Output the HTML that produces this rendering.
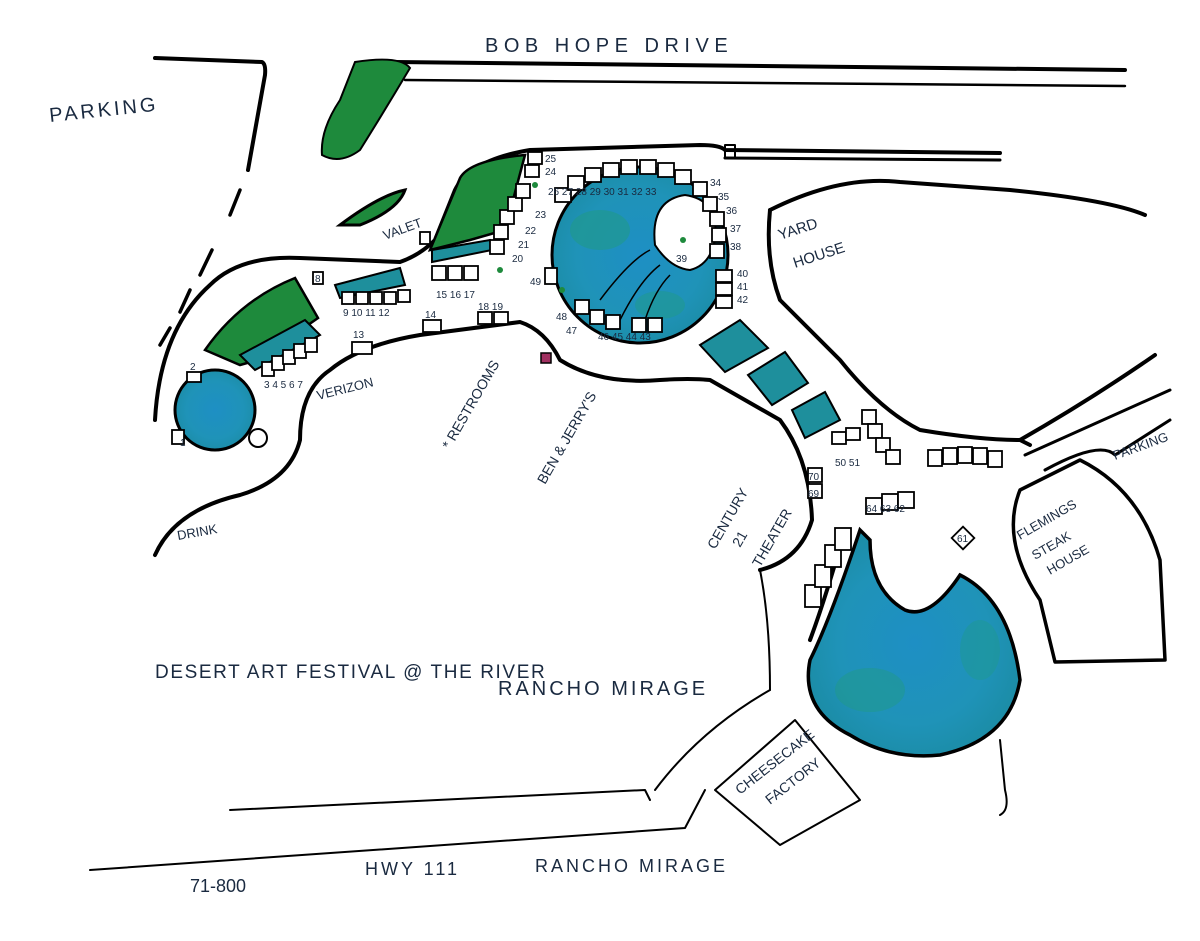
<!DOCTYPE html>
<html><head><meta charset="utf-8"><style>
html,body{margin:0;padding:0;background:#fff;width:1200px;height:941px;overflow:hidden}
svg{display:block}
text{font-family:"Liberation Sans",sans-serif;fill:#1a2a40}
</style></head><body>
<svg width="1200" height="941" viewBox="0 0 1200 941">
<defs>
<radialGradient id="pond" cx="50%" cy="50%" r="60%">
<stop offset="0" stop-color="#1e8fc4"/><stop offset="0.6" stop-color="#1f93b8"/><stop offset="1" stop-color="#1a8aa0"/>
</radialGradient>
</defs>
<g fill="none" stroke="#000" stroke-width="4" stroke-linecap="round" stroke-linejoin="round">
<path d="M155 58 L262 62 Q266 64 265 75 L248 170"/>
<path d="M395 62 L1125 70" />
<path d="M405 80 L1125 86" stroke-width="2.5"/>
<path d="M240 190 L230 215 M212 250 L200 275 M190 290 L180 312 M170 328 L160 345" stroke-width="3.5"/>
<path d="M155 420 Q160 330 210 285 Q240 255 300 258 L400 262 Q420 255 435 240 L455 190 Q470 160 530 150 L700 145 Q720 145 725 150 L1000 153"/>
<path d="M725 158 L1000 160" stroke-width="3"/>
<path d="M725 145 L735 145 L735 158 L725 158 Z" stroke-width="2"/>
<path d="M770 210 Q840 175 900 182 L1010 190 Q1110 200 1145 215"/>
<path d="M770 210 Q765 260 780 300 L840 360 Q880 410 920 430 Q980 440 1020 440 Q1090 400 1155 355"/>
<path d="M1020 440 L1030 445" />
<path d="M1025 455 L1170 390" stroke-width="3"/>
<path d="M1045 470 Q1100 440 1115 455 L1170 420" stroke-width="3"/>
<path d="M1080 460 Q1140 490 1160 560 L1165 660 L1055 662 L1040 600 Q1000 540 1020 490 Z" stroke-width="3.5"/>
<path d="M155 555 Q175 510 240 495 Q290 480 300 440 Q300 390 330 370 Q360 345 420 335 L520 322 Q545 330 560 360 Q600 385 660 380 Q690 378 710 380 L780 420 Q810 460 812 520 Q800 560 760 570"/>
<path d="M760 570 Q770 620 770 690" stroke-width="2"/>
<path d="M770 690 Q700 730 655 790" stroke-width="2"/>
<path d="M845 530 Q825 600 810 640"/>
<path d="M230 810 L645 790 L650 800" stroke-width="2"/>
<path d="M90 870 L685 828 L705 790" stroke-width="2"/>
<path d="M715 790 L795 720 L860 800 L780 845 Z" stroke-width="2"/>
<path d="M1000 740 L1005 790 Q1010 810 1000 815" stroke-width="2"/>
</g>
<path d="M355 62 Q400 55 410 68 Q385 110 360 150 Q340 165 322 155 Q320 130 340 100 Z" fill="#1e8a3c" stroke="#000" stroke-width="2"/>
<path d="M340 225 Q380 195 405 190 Q398 210 360 225 Z" fill="#1e8a3c" stroke="#000" stroke-width="3"/>
<path d="M460 178 Q470 160 525 155 L505 230 L470 240 L430 250 Z" fill="#1e8a3c" stroke="#000" stroke-width="2.5"/>
<path d="M205 350 Q240 300 295 278 L318 318 L258 360 L240 365 Z" fill="#1e8a3c" stroke="#000" stroke-width="2.5"/>
<path d="M240 355 L305 320 L320 335 L255 370 Z" fill="#1e8f9c" stroke="#000" stroke-width="2"/>
<path d="M335 285 L400 268 L405 285 L340 298 Z" fill="#1e8f9c" stroke="#000" stroke-width="2"/>
<path d="M432 262 L492 250 L490 240 L432 250 Z" fill="#1e8f9c" stroke="#000" stroke-width="2"/>
<circle cx="640" cy="255" r="88" fill="url(#pond)" stroke="#000" stroke-width="3"/>
<ellipse cx="600" cy="230" rx="30" ry="20" fill="#1f9a88" opacity="0.6"/>
<ellipse cx="660" cy="305" rx="25" ry="14" fill="#1f9a88" opacity="0.5"/>
<path d="M655 245 Q650 200 685 195 Q720 200 715 240 Q710 265 690 270 Q670 268 655 245 Z" fill="#fff" stroke="#000" stroke-width="2"/>
<path d="M600 300 Q630 260 650 250 M620 320 Q640 280 660 265 M645 320 Q655 290 670 275" fill="none" stroke="#000" stroke-width="1.5"/>
<circle cx="215" cy="410" r="40" fill="url(#pond)" stroke="#000" stroke-width="3"/>
<circle cx="258" cy="438" r="9" fill="#fff" stroke="#000" stroke-width="2"/>
<path d="M860 530 Q830 620 810 660 Q800 710 850 735 Q890 760 940 755 Q1010 740 1020 680 Q1010 600 960 575 Q930 620 905 610 Q870 590 870 540 Z" fill="url(#pond)" stroke="#000" stroke-width="3.5"/>
<ellipse cx="870" cy="690" rx="35" ry="22" fill="#1f9a88" opacity="0.5"/>
<ellipse cx="980" cy="650" rx="20" ry="30" fill="#1f9a88" opacity="0.4"/>
<g fill="#1e8f9c" stroke="#000" stroke-width="2">
<path d="M700 345 L740 320 L768 348 L725 372 Z"/>
<path d="M748 375 L785 352 L808 383 L772 405 Z"/>
<path d="M792 410 L825 392 L840 420 L805 438 Z"/>
</g>
<g fill="#fff" stroke="#000" stroke-width="1.8">
<rect x="172" y="430" width="12" height="14"/><rect x="187" y="372" width="14" height="10"/>
<rect x="262" y="362" width="12" height="14"/><rect x="272" y="356" width="12" height="14"/><rect x="283" y="350" width="12" height="14"/><rect x="294" y="344" width="12" height="14"/><rect x="305" y="338" width="12" height="14"/><rect x="313" y="272" width="10" height="12"/>
<rect x="342" y="292" width="12" height="12"/><rect x="356" y="292" width="12" height="12"/><rect x="370" y="292" width="12" height="12"/><rect x="384" y="292" width="12" height="12"/><rect x="398" y="290" width="12" height="12"/>
<rect x="352" y="342" width="20" height="12"/><rect x="423" y="320" width="18" height="12"/>
<rect x="432" y="266" width="14" height="14"/><rect x="448" y="266" width="14" height="14"/><rect x="464" y="266" width="14" height="14"/><rect x="478" y="312" width="14" height="12"/><rect x="494" y="312" width="14" height="12"/>
<rect x="490" y="240" width="14" height="14"/><rect x="494" y="225" width="14" height="14"/><rect x="500" y="210" width="14" height="14"/><rect x="508" y="197" width="14" height="14"/><rect x="516" y="184" width="14" height="14"/><rect x="525" y="165" width="14" height="12"/><rect x="528" y="152" width="14" height="12"/>
<rect x="555" y="188" width="16" height="14"/><rect x="568" y="176" width="16" height="14"/><rect x="585" y="168" width="16" height="14"/><rect x="603" y="163" width="16" height="14"/><rect x="621" y="160" width="16" height="14"/><rect x="640" y="160" width="16" height="14"/><rect x="658" y="163" width="16" height="14"/><rect x="675" y="170" width="16" height="14"/>
<rect x="693" y="182" width="14" height="14"/><rect x="703" y="197" width="14" height="14"/><rect x="710" y="212" width="14" height="14"/><rect x="712" y="228" width="14" height="14"/><rect x="710" y="244" width="14" height="14"/>
<rect x="716" y="270" width="16" height="12"/><rect x="716" y="283" width="16" height="12"/><rect x="716" y="296" width="16" height="12"/>
<rect x="545" y="268" width="12" height="16"/><rect x="575" y="300" width="14" height="14"/><rect x="590" y="310" width="14" height="14"/><rect x="606" y="315" width="14" height="14"/><rect x="632" y="318" width="14" height="14"/><rect x="648" y="318" width="14" height="14"/>
<rect x="420" y="232" width="10" height="12"/>
<rect x="832" y="432" width="14" height="12"/><rect x="846" y="428" width="14" height="12"/>
<rect x="862" y="410" width="14" height="14"/><rect x="868" y="424" width="14" height="14"/><rect x="876" y="438" width="14" height="14"/><rect x="886" y="450" width="14" height="14"/>
<rect x="928" y="450" width="14" height="16"/><rect x="943" y="448" width="14" height="16"/><rect x="958" y="447" width="14" height="16"/><rect x="973" y="448" width="14" height="16"/><rect x="988" y="451" width="14" height="16"/>
<rect x="808" y="468" width="14" height="14"/><rect x="808" y="484" width="14" height="14"/>
<rect x="866" y="498" width="16" height="16"/><rect x="882" y="494" width="16" height="16"/><rect x="898" y="492" width="16" height="16"/>
<rect x="955" y="530" width="16" height="16" transform="rotate(45 963 538)"/>
<rect x="805" y="585" width="16" height="22"/><rect x="815" y="565" width="16" height="22"/><rect x="825" y="545" width="16" height="22"/><rect x="835" y="528" width="16" height="22"/>
</g>
<rect x="541" y="353" width="10" height="10" fill="#a03060" stroke="#000" stroke-width="1.5"/>
<circle cx="683" cy="240" r="3" fill="#1e8a3c"/><circle cx="500" cy="270" r="3" fill="#1e8a3c"/><circle cx="535" cy="185" r="3" fill="#1e8a3c"/><circle cx="562" cy="290" r="3" fill="#1e8a3c"/>
<g font-size="20">
<text x="485" y="52" letter-spacing="5.5">BOB HOPE DRIVE</text>
<text x="50" y="122" transform="rotate(-6 50 122)" letter-spacing="3">PARKING</text>
<text x="385" y="240" font-size="13" transform="rotate(-20 385 240)">VALET</text>
<text x="780" y="240" font-size="15" transform="rotate(-18 780 240)">YARD</text>
<text x="795" y="268" font-size="15" transform="rotate(-18 795 268)">HOUSE</text>
<text x="318" y="400" font-size="13" transform="rotate(-14 318 400)">VERIZON</text>
<text x="450" y="450" font-size="14" transform="rotate(-60 450 450)">* RESTROOMS</text>
<text x="545" y="485" font-size="14" transform="rotate(-60 545 485)">BEN &amp; JERRY'S</text>
<text x="178" y="540" font-size="13" transform="rotate(-10 178 540)">DRINK</text>
<text x="715" y="550" font-size="14" transform="rotate(-60 715 550)">CENTURY</text>
<text x="740" y="548" font-size="14" transform="rotate(-60 740 548)">21</text>
<text x="760" y="568" font-size="14" transform="rotate(-60 760 568)">THEATER</text>
<text x="1020" y="540" font-size="13" transform="rotate(-30 1020 540)">FLEMINGS</text>
<text x="1035" y="560" font-size="13" transform="rotate(-30 1035 560)">STEAK</text>
<text x="1050" y="575" font-size="13" transform="rotate(-30 1050 575)">HOUSE</text>
<text x="1115" y="460" font-size="13" transform="rotate(-20 1115 460)">PARKING</text>
<text x="155" y="678" font-size="19" letter-spacing="1.6">DESERT ART FESTIVAL @ THE RIVER</text>
<text x="498" y="695" letter-spacing="3">RANCHO MIRAGE</text>
<text x="740" y="795" font-size="14" transform="rotate(-38 740 795)">CHEESECAKE</text>
<text x="770" y="805" font-size="14" transform="rotate(-38 770 805)">FACTORY</text>
<text x="190" y="892" font-size="18">71-800</text>
<text x="365" y="875" font-size="18" letter-spacing="3">HWY 111</text>
<text x="535" y="872" font-size="18" letter-spacing="3">RANCHO MIRAGE</text>
</g>
<g font-size="10">
<text x="180" y="446">1</text><text x="190" y="370">2</text><text x="264" y="388">3 4 5 6 7</text><text x="315" y="282">8</text>
<text x="343" y="316">9 10 11 12</text><text x="353" y="338">13</text><text x="425" y="318">14</text>
<text x="436" y="298">15 16 17</text><text x="478" y="310">18 19</text><text x="512" y="262">20</text><text x="518" y="248">21</text><text x="525" y="234">22</text><text x="535" y="218">23</text>
<text x="545" y="162">25</text><text x="545" y="175">24</text><text x="548" y="195">26 27 28 29 30 31 32 33</text>
<text x="710" y="186">34</text><text x="718" y="200">35</text><text x="726" y="214">36</text><text x="730" y="232">37</text><text x="730" y="250">38</text><text x="676" y="262">39</text>
<text x="737" y="277">40</text><text x="737" y="290">41</text><text x="737" y="303">42</text>
<text x="530" y="285">49</text><text x="556" y="320">48</text><text x="566" y="334">47</text><text x="598" y="340">46 45 44 43</text>
<text x="835" y="466">50 51</text><text x="808" y="480">70</text><text x="808" y="497">69</text>
<text x="866" y="512">64 63 62</text><text x="957" y="542">61</text>
</g>
</svg>
</body></html>
